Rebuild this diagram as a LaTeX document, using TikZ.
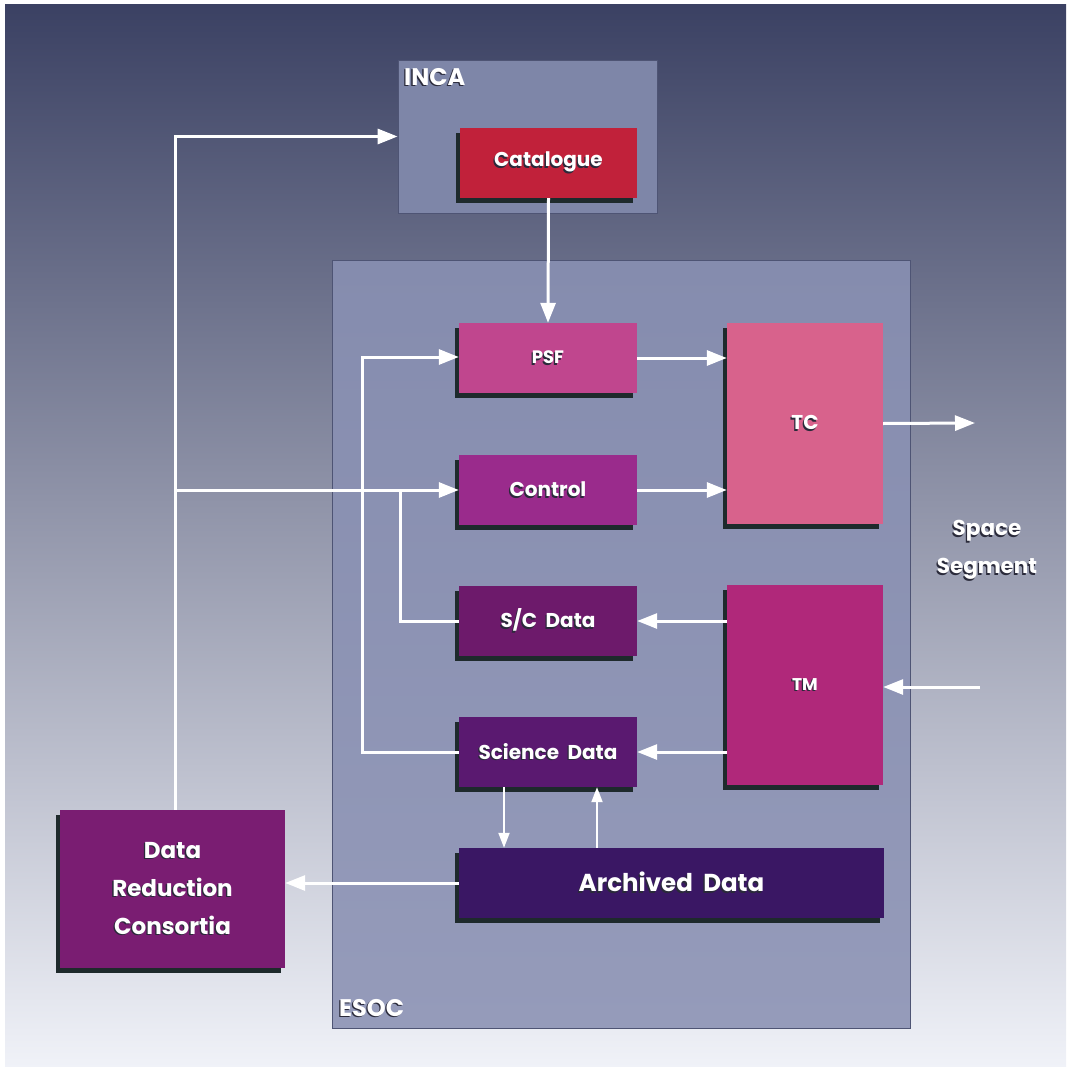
\documentclass[tikz,border=0pt]{standalone}
\usepackage{fontspec}
\setmainfont{Poppins}
\usetikzlibrary{arrows.meta,shadows,calc}
\definecolor{bgtop}{HTML}{3B4163}
\definecolor{bgmid}{HTML}{7F86A6}
\definecolor{bgbot}{HTML}{F0F2F8}
\definecolor{incac}{HTML}{7E86A8}
\definecolor{esoctop}{HTML}{858CAE}
\definecolor{esocbot}{HTML}{959BBA}
\definecolor{framec}{HTML}{4E5474}
\definecolor{catc}{HTML}{C1213A}
\definecolor{psfc}{HTML}{C0468E}
\definecolor{tcc}{HTML}{D8628C}
\definecolor{ctlc}{HTML}{9A2B8C}
\definecolor{scdc}{HTML}{6D1A6B}
\definecolor{tmc}{HTML}{B0287A}
\definecolor{scic}{HTML}{5A1970}
\definecolor{arcc}{HTML}{3A1764}
\definecolor{drcc}{HTML}{7A1D72}
\definecolor{boxshadow}{HTML}{1E2A2C}
\definecolor{txtshadow}{HTML}{2A2A3A}
\newcommand\ts[1]{{\makebox[0pt][l]{\hspace*{-1.3pt}\raisebox{-1.5pt}{\color{txtshadow}#1}}#1}}
\tikzset{
  blk/.style={rectangle, inner sep=0pt, text=white, font=\bfseries\fontsize{20}{24}\selectfont,
    drop shadow={shadow xshift=-4pt, shadow yshift=-5pt, opacity=1, fill=boxshadow}},
  area/.style={rectangle, inner sep=0pt, draw=framec, line width=0.8pt},
  arr/.style={white, line width=3pt, -{Triangle[length=20pt,width=15pt]}},
  arrs/.style={white, line width=2pt, -{Triangle[length=15pt,width=11pt]}},
  ln/.style={white, line width=3pt},
  lbl/.style={text=white, font=\bfseries\fontsize{24}{28}\selectfont, inner sep=0pt}
}
\begin{document}
\begin{tikzpicture}[x=1pt,y=-1pt]
\useasboundingbox (0,0) rectangle (1066,1067);
\fill[white] (0,0) rectangle (1066,1067);
\shade[top color=bgtop, middle color=bgmid, bottom color=bgbot] (5,5) rectangle (1066,1067);

% areas
\node[area, fill=incac, minimum width=259pt, minimum height=153pt] (inca) at (527.5,136.5) {};
\node[area, top color=esoctop, bottom color=esocbot, minimum width=578pt, minimum height=768pt] (esoc) at (621,644) {};
\node[lbl, anchor=north west] (incal) at (404,68) {\ts{INCA}};
\node[lbl, anchor=south west] (esocl) at (339,1018) {\ts{ESOC}};

% blocks
\node[blk, fill=catc, minimum width=177pt, minimum height=70pt] (cat) at (548.5,163) {\ts{Catalogue}};
\node[blk, fill=psfc, minimum width=178pt, minimum height=70pt, font=\bfseries\fontsize{18}{22}\selectfont] (psf) at (548,358) {\ts{PSF}};
\node[blk, fill=tcc, minimum width=156pt, minimum height=201pt] (tc) at (805,423.5) {\ts{TC}};
\node[blk, fill=ctlc, minimum width=178pt, minimum height=70pt] (ctl) at (548,490) {\ts{Control}};
\node[blk, fill=scdc, minimum width=178pt, minimum height=70pt] (scd) at (548,621) {\ts{S/C~~Data}};
\node[blk, fill=tmc, minimum width=156pt, minimum height=200pt, font=\bfseries\fontsize{17}{20}\selectfont] (tm) at (805,685) {\ts{TM}};
\node[blk, fill=scic, minimum width=178pt, minimum height=70pt] (sci) at (548,752) {\ts{Science~~Data}};
\node[blk, fill=arcc, minimum width=425pt, minimum height=70pt, font=\bfseries\fontsize{24.5}{28}\selectfont] (arc) at (671.5,883) {\ts{Archived~~Data}};
\node[blk, fill=drcc, minimum width=225pt, minimum height=158pt, align=center, font=\bfseries\fontsize{23}{38}\selectfont] (drc) at (172.5,889) {\ts{Data}\\\ts{Reduction}\\\ts{Consortia}};
\node[lbl, align=center, font=\bfseries\fontsize{21.5}{38}\selectfont] (space) at (987,551) {\ts{Space}\\\ts{Segment}};

% junction coordinates
\coordinate (jleft) at (175,490);
\coordinate (jpsf) at (362,357);
\coordinate (jscd) at (400,490);
\coordinate (tcout) at (975,423);
\coordinate (tmin) at (980,687);
\coordinate (dn) at (504,0);
\coordinate (up) at (597,0);

% connectors
\draw[arr] (cat.south) -- (psf.north);
\draw[arr] (drc.north -| jleft) |- (inca.west);
\draw[arr] (jleft) -- (ctl.west);
\draw[ln] (scd.west) -| (jscd);
\draw[arr] (sci.west) -| (jpsf) -- (jpsf -| psf.west);
\draw[arr] (psf.east) -- (psf.east -| tc.west);
\draw[arr] (ctl.east) -- (ctl.east -| tc.west);
\draw[arr] (tc.east) -- (tcout);
\draw[arr] (tmin) -- (tmin -| tm.east);
\draw[arr] (tm.west |- scd.east) -- (scd.east);
\draw[arr] (tm.west |- sci.east) -- (sci.east);
\draw[arrs] (dn |- sci.south) -- (dn |- arc.north);
\draw[arrs] (up |- arc.north) -- (up |- sci.south);
\draw[arr] (arc.west) -- (arc.west -| drc.east);
\end{tikzpicture}
\end{document}
